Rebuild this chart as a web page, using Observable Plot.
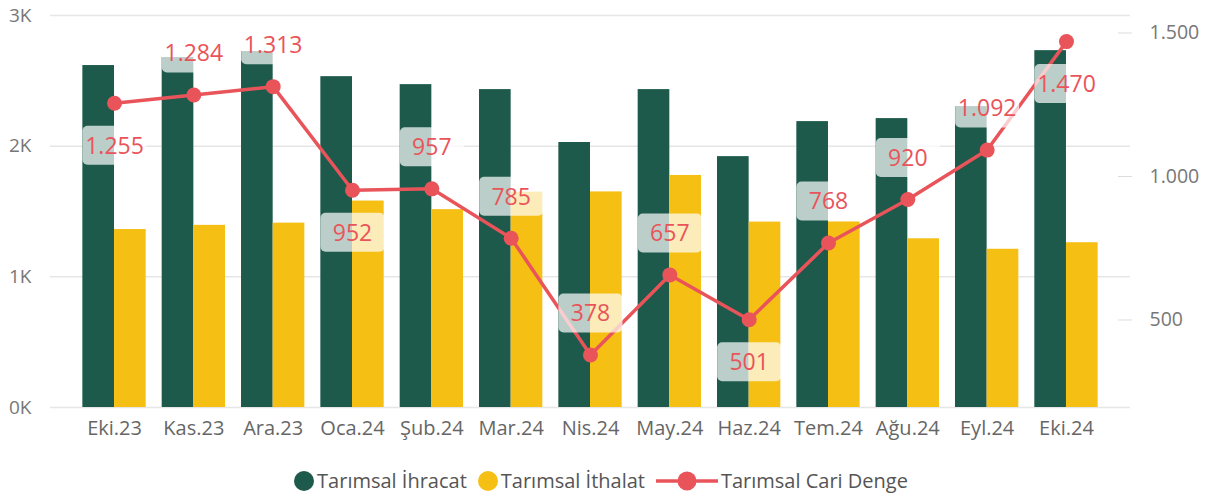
<!DOCTYPE html>
<html>
<head>
<meta charset="utf-8">
<script src="https://cdn.jsdelivr.net/npm/d3@7"></script>
<script src="https://cdn.jsdelivr.net/npm/@observablehq/plot@0.6"></script>
<style>
  body { margin: 0; background: #fff; font-family: "Open Sans", "Noto Sans", sans-serif; }
  #chart svg { display: block; }
  .legend { display: flex; justify-content: center; align-items: center; font-size: 20px; color: #555; margin-top: 12px; line-height: 27px; }
  .legend .item { display: flex; align-items: center; margin-right: 11px; }
  .legend .sw { width: 20px; height: 20px; border-radius: 50%; margin-right: 3px; }
  .legend svg { margin-right: 3px; }
</style>
</head>
<body>
<div id="chart"></div>
<div class="legend">
  <span class="item"><span class="sw" style="background:#1E5A4C"></span>Tarımsal İhracat</span>
  <span class="item"><span class="sw" style="background:#F5BF14"></span>Tarımsal İthalat</span>
  <span class="item"><svg width="62" height="20"><line x1="0" x2="62" y1="10" y2="10" stroke="#E9545A" stroke-width="3.5"/><circle cx="31" cy="10" r="9.5" fill="#E9545A"/></svg>Tarımsal Cari Denge</span>
</div>
<script>
const months = ["Eki.23","Kas.23","Ara.23","Oca.24","Şub.24","Mar.24","Nis.24","May.24","Haz.24","Tem.24","Ağu.24","Eyl.24","Eki.24"];
const ihracat = [2617, 2678, 2724, 2532, 2471, 2433, 2028, 2433, 1920, 2188, 2211, 2303, 2731];
const ithalat = [1362, 1394, 1411, 1580, 1514, 1648, 1650, 1776, 1419, 1420, 1291, 1211, 1261];
const cariDenge = [1255, 1284, 1313, 952, 957, 785, 378, 657, 501, 768, 920, 1092, 1470];
const leftTicks = [0, 1000, 2000, 3000];
const rightTicks = [500, 1000, 1500];
const labelBelow = [true, false, false, true, false, false, false, false, true, false, false, false, true];

const GREEN = "#1E5A4C", YELLOW = "#F5BF14", RED = "#E9545A";
const tr = d3.formatLocale({decimal: ",", thousands: ".", grouping: [3], currency: ["", ""]});
const fmt = tr.format(",d");

// secondary axis mapping (right axis domain onto left y scale)
const y2 = d3.scaleLinear([195, 1561], [0, 3000]);

const rows = months.map((m, i) => ({
  m, ihr: ihracat[i], ith: ithalat[i], cari: cariDenge[i], cy: y2(cariDenge[i]), below: labelBelow[i]
}));

function roundRectSymbol(w, h, r) {
  return {
    draw(ctx) {
      const x0 = -w / 2, y0 = -h / 2, x1 = w / 2, y1 = h / 2;
      ctx.moveTo(x0 + r, y0);
      ctx.lineTo(x1 - r, y0);
      ctx.arcTo(x1, y0, x1, y0 + r, r);
      ctx.lineTo(x1, y1 - r);
      ctx.arcTo(x1, y1, x1 - r, y1, r);
      ctx.lineTo(x0 + r, y1);
      ctx.arcTo(x0, y1, x0, y1 - r, r);
      ctx.lineTo(x0, y0 + r);
      ctx.arcTo(x0, y0, x0 + r, y0, r);
      ctx.closePath();
    }
  };
}
const boxSym = roundRectSymbol(64, 39, 5);

const aboveRows = rows.filter(d => !d.below);
const belowRows = rows.filter(d => d.below);

const chart = Plot.plot({
  width: 1213,
  height: 455,
  marginTop: 15,
  marginBottom: 48,
  marginLeft: 50,
  marginRight: 83,
  style: {fontFamily: "'Open Sans', 'Noto Sans', sans-serif", fontSize: "19px", color: "#777"},
  x: {type: "band", domain: months, paddingInner: 0, paddingOuter: 0.307, round: false, label: null},
  y: {domain: [0, 3000], label: null},
  marks: [
    Plot.ruleY(leftTicks, {stroke: "#e6e6e6", strokeWidth: 1.5}),
    Plot.axisY(leftTicks, {anchor: "left", tickSize: 0, tickPadding: 19, tickFormat: d => d / 1000 + "K", fill: "#777", fontSize: 19, label: null}),
    Plot.axisY(rightTicks.map(v => y2(v)), {anchor: "right", tickSize: 14, dx: -13, tickPadding: 18, stroke: "#ddd", tickFormat: d => fmt(Math.round(y2.invert(d))), fill: "#777", fontSize: 19.5, label: null}),
    Plot.axisX({tickSize: 0, tickPadding: 13, fill: "#666", fontSize: 20, label: null}),
    Plot.barY(rows, {x: "m", y: "ihr", fill: GREEN, insetLeft: 8, insetRight: 39.67}),
    Plot.barY(rows, {x: "m", y: "ith", fill: YELLOW, insetLeft: 39.67, insetRight: 8}),
    Plot.line(rows, {x: "m", y: "cy", stroke: RED, strokeWidth: 3.5}),
    Plot.dot(rows, {x: "m", y: "cy", r: 7.5, fill: RED}),
    Plot.dot(aboveRows, {x: "m", y: "cy", dy: -42, symbol: boxSym, fill: "white", fillOpacity: 0.7, stroke: null, r: 1}),
    Plot.dot(belowRows, {x: "m", y: "cy", dy: 42, symbol: boxSym, fill: "white", fillOpacity: 0.7, stroke: null, r: 1}),
    Plot.text(aboveRows, {x: "m", y: "cy", dy: -41, text: d => fmt(d.cari), fill: RED, fontSize: 23}),
    Plot.text(belowRows, {x: "m", y: "cy", dy: 43, text: d => fmt(d.cari), fill: RED, fontSize: 23})
  ]
});
document.getElementById("chart").appendChild(chart);
</script>
</body>
</html>
